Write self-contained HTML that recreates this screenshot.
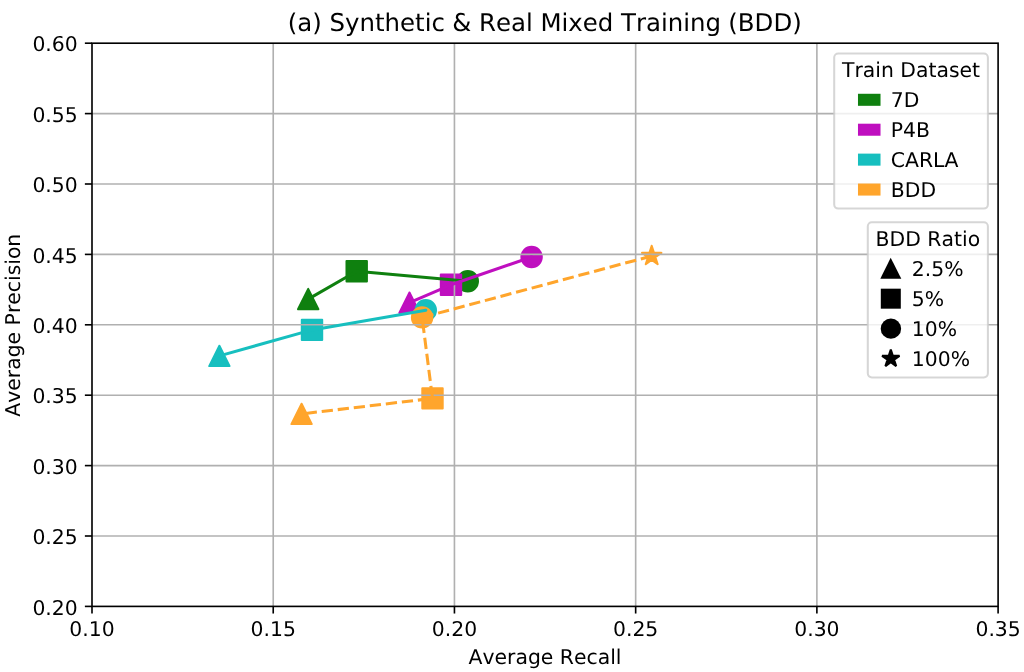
<!DOCTYPE html>
<html><head><meta charset="utf-8"><title>Synthetic &amp; Real Mixed Training (BDD)</title>
<style>html,body{margin:0;padding:0;background:#fff;}svg{display:block;}</style></head>
<body>
<svg width="1024" height="672" viewBox="0 0 1024 672" font-family="DejaVu Sans, Liberation Sans, sans-serif" text-rendering="geometricPrecision" style="font-kerning:none">
<rect width="1024" height="672" fill="#ffffff"/>
<path d="M308.20,288.91 L298.01,309.29 L318.39,309.29 Z" fill="#0f800f" stroke="#0f800f" stroke-width="2.04" stroke-linejoin="round"/>
<rect x="346.51" y="261.01" width="20.38" height="20.38" fill="#0f800f" stroke="#0f800f" stroke-width="2.04" stroke-linejoin="round"/>
<circle cx="467.80" cy="281.30" r="10.19" fill="#0f800f" stroke="#0f800f" stroke-width="2.04" stroke-linejoin="round"/>
<path d="M409.50,292.51 L399.31,312.89 L419.69,312.89 Z" fill="#bf0fbf" stroke="#bf0fbf" stroke-width="2.04" stroke-linejoin="round"/>
<rect x="440.81" y="274.61" width="20.38" height="20.38" fill="#bf0fbf" stroke="#bf0fbf" stroke-width="2.04" stroke-linejoin="round"/>
<circle cx="531.60" cy="257.00" r="10.19" fill="#bf0fbf" stroke="#bf0fbf" stroke-width="2.04" stroke-linejoin="round"/>
<path d="M219.40,345.71 L209.21,366.09 L229.59,366.09 Z" fill="#17bfbf" stroke="#17bfbf" stroke-width="2.04" stroke-linejoin="round"/>
<rect x="301.81" y="319.71" width="20.38" height="20.38" fill="#17bfbf" stroke="#17bfbf" stroke-width="2.04" stroke-linejoin="round"/>
<circle cx="425.80" cy="310.20" r="10.19" fill="#17bfbf" stroke="#17bfbf" stroke-width="2.04" stroke-linejoin="round"/>
<path d="M301.60,403.71 L291.41,424.09 L311.79,424.09 Z" fill="#ffa52c" stroke="#ffa52c" stroke-width="2.04" stroke-linejoin="round"/>
<rect x="422.31" y="388.21" width="20.38" height="20.38" fill="#ffa52c" stroke="#ffa52c" stroke-width="2.04" stroke-linejoin="round"/>
<circle cx="422.10" cy="317.40" r="10.19" fill="#ffa52c" stroke="#ffa52c" stroke-width="2.04" stroke-linejoin="round"/>
<path d="M651.70,245.81 L649.41,252.85 L642.01,252.85 L648.00,257.20 L645.71,264.24 L651.70,259.89 L657.69,264.24 L655.40,257.20 L661.39,252.85 L653.99,252.85 Z" fill="#ffa52c" stroke="#ffa52c" stroke-width="2.04" stroke-linejoin="round"/>
<line x1="273.22" y1="43.2" x2="273.22" y2="606.4" stroke="#b0b0b0" stroke-width="1.63"/>
<line x1="454.44" y1="43.2" x2="454.44" y2="606.4" stroke="#b0b0b0" stroke-width="1.63"/>
<line x1="635.66" y1="43.2" x2="635.66" y2="606.4" stroke="#b0b0b0" stroke-width="1.63"/>
<line x1="816.88" y1="43.2" x2="816.88" y2="606.4" stroke="#b0b0b0" stroke-width="1.63"/>
<line x1="92.0" y1="536.00" x2="998.1" y2="536.00" stroke="#b0b0b0" stroke-width="1.63"/>
<line x1="92.0" y1="465.60" x2="998.1" y2="465.60" stroke="#b0b0b0" stroke-width="1.63"/>
<line x1="92.0" y1="395.20" x2="998.1" y2="395.20" stroke="#b0b0b0" stroke-width="1.63"/>
<line x1="92.0" y1="324.80" x2="998.1" y2="324.80" stroke="#b0b0b0" stroke-width="1.63"/>
<line x1="92.0" y1="254.40" x2="998.1" y2="254.40" stroke="#b0b0b0" stroke-width="1.63"/>
<line x1="92.0" y1="184.00" x2="998.1" y2="184.00" stroke="#b0b0b0" stroke-width="1.63"/>
<line x1="92.0" y1="113.60" x2="998.1" y2="113.60" stroke="#b0b0b0" stroke-width="1.63"/>
<path d="M467.80,281.30 L356.70,271.20 L308.20,299.10" fill="none" stroke="#0f800f" stroke-width="3.05" stroke-linejoin="round" stroke-linecap="round"/>
<path d="M531.60,257.00 L451.00,284.80 L409.50,302.70" fill="none" stroke="#bf0fbf" stroke-width="3.05" stroke-linejoin="round" stroke-linecap="round"/>
<path d="M425.80,310.20 L312.00,329.90 L219.40,355.90" fill="none" stroke="#17bfbf" stroke-width="3.05" stroke-linejoin="round" stroke-linecap="round"/>
<path d="M651.70,256.00 L422.10,317.40 L432.50,398.40 L301.60,413.90" fill="none" stroke="#ffa52c" stroke-width="3.05" stroke-dasharray="11.27 4.87" stroke-linejoin="round" stroke-linecap="butt"/>
<rect x="92.0" y="43.2" width="906.10" height="563.20" fill="none" stroke="#000" stroke-width="1.63" stroke-linejoin="miter"/>
<line x1="92.00" y1="606.4" x2="92.00" y2="613.53" stroke="#000" stroke-width="1.63"/>
<text x="92.00" y="636.4" font-size="20.37" text-anchor="middle" fill="#000">0.10</text>
<line x1="273.22" y1="606.4" x2="273.22" y2="613.53" stroke="#000" stroke-width="1.63"/>
<text x="273.22" y="636.4" font-size="20.37" text-anchor="middle" fill="#000">0.15</text>
<line x1="454.44" y1="606.4" x2="454.44" y2="613.53" stroke="#000" stroke-width="1.63"/>
<text x="454.44" y="636.4" font-size="20.37" text-anchor="middle" fill="#000">0.20</text>
<line x1="635.66" y1="606.4" x2="635.66" y2="613.53" stroke="#000" stroke-width="1.63"/>
<text x="635.66" y="636.4" font-size="20.37" text-anchor="middle" fill="#000">0.25</text>
<line x1="816.88" y1="606.4" x2="816.88" y2="613.53" stroke="#000" stroke-width="1.63"/>
<text x="816.88" y="636.4" font-size="20.37" text-anchor="middle" fill="#000">0.30</text>
<line x1="998.10" y1="606.4" x2="998.10" y2="613.53" stroke="#000" stroke-width="1.63"/>
<text x="998.10" y="636.4" font-size="20.37" text-anchor="middle" fill="#000">0.35</text>
<line x1="84.87" y1="606.40" x2="92.0" y2="606.40" stroke="#000" stroke-width="1.63"/>
<text x="77.74" y="614.50" font-size="20.37" text-anchor="end" fill="#000">0.20</text>
<line x1="84.87" y1="536.00" x2="92.0" y2="536.00" stroke="#000" stroke-width="1.63"/>
<text x="77.74" y="544.10" font-size="20.37" text-anchor="end" fill="#000">0.25</text>
<line x1="84.87" y1="465.60" x2="92.0" y2="465.60" stroke="#000" stroke-width="1.63"/>
<text x="77.74" y="473.70" font-size="20.37" text-anchor="end" fill="#000">0.30</text>
<line x1="84.87" y1="395.20" x2="92.0" y2="395.20" stroke="#000" stroke-width="1.63"/>
<text x="77.74" y="403.30" font-size="20.37" text-anchor="end" fill="#000">0.35</text>
<line x1="84.87" y1="324.80" x2="92.0" y2="324.80" stroke="#000" stroke-width="1.63"/>
<text x="77.74" y="332.90" font-size="20.37" text-anchor="end" fill="#000">0.40</text>
<line x1="84.87" y1="254.40" x2="92.0" y2="254.40" stroke="#000" stroke-width="1.63"/>
<text x="77.74" y="262.50" font-size="20.37" text-anchor="end" fill="#000">0.45</text>
<line x1="84.87" y1="184.00" x2="92.0" y2="184.00" stroke="#000" stroke-width="1.63"/>
<text x="77.74" y="192.10" font-size="20.37" text-anchor="end" fill="#000">0.50</text>
<line x1="84.87" y1="113.60" x2="92.0" y2="113.60" stroke="#000" stroke-width="1.63"/>
<text x="77.74" y="121.70" font-size="20.37" text-anchor="end" fill="#000">0.55</text>
<line x1="84.87" y1="43.20" x2="92.0" y2="43.20" stroke="#000" stroke-width="1.63"/>
<text x="77.74" y="51.30" font-size="20.37" text-anchor="end" fill="#000">0.60</text>
<text x="545.05" y="664.3" font-size="20.37" text-anchor="middle" fill="#000">Average Recall</text>
<text transform="translate(19.9,325.20) rotate(-90)" x="0" y="0" font-size="20.37" text-anchor="middle" fill="#000">Average Precision</text>
<text y="30.9" font-size="24.44" fill="#000"><tspan x="287.8">(a) </tspan><tspan x="329.5">Synthetic </tspan><tspan x="452.35">&amp; </tspan><tspan x="479.0">Real </tspan><tspan x="540.4">Mixed </tspan><tspan x="621.0">Training </tspan><tspan x="728.3">(BDD)</tspan></text>
<rect x="834.2" y="53.5" width="153.70" height="155.10" rx="4.07" ry="4.07" fill="#ffffff" fill-opacity="0.8" stroke="#cccccc" stroke-opacity="0.8" stroke-width="2.04"/>
<text x="911.05" y="77.1" font-size="20.37" text-anchor="middle" fill="#000">Train Dataset</text>
<rect x="859.0" y="94.80" width="20.5" height="10.0" fill="#0f800f" stroke="#0f800f" stroke-width="2.04"/>
<text x="890.8" y="107.10" font-size="20.37" fill="#000">7D</text>
<rect x="859.0" y="124.72" width="20.5" height="10.0" fill="#bf0fbf" stroke="#bf0fbf" stroke-width="2.04"/>
<text x="890.8" y="137.02" font-size="20.37" fill="#000">P4B</text>
<rect x="859.0" y="154.64" width="20.5" height="10.0" fill="#17bfbf" stroke="#17bfbf" stroke-width="2.04"/>
<text x="890.8" y="166.94" font-size="20.37" fill="#000">CARLA</text>
<rect x="859.0" y="184.56" width="20.5" height="10.0" fill="#ffa52c" stroke="#ffa52c" stroke-width="2.04"/>
<text x="890.8" y="196.86" font-size="20.37" fill="#000">BDD</text>
<rect x="867.8" y="222.2" width="120.10" height="155.20" rx="4.07" ry="4.07" fill="#ffffff" fill-opacity="0.8" stroke="#cccccc" stroke-opacity="0.8" stroke-width="2.04"/>
<text x="927.85" y="245.8" font-size="20.37" text-anchor="middle" fill="#000">BDD Ratio</text>
<path d="M890.70,257.70 L880.30,278.85 L901.30,278.85 Z" fill="#000"/>
<text x="911.8" y="276.00" font-size="20.37" fill="#000">2.5%</text>
<rect x="880.80" y="288.68" width="20.0" height="20.0" fill="#000"/>
<text x="911.8" y="305.98" font-size="20.37" fill="#000">5%</text>
<circle cx="890.90" cy="328.66" r="10.2" fill="#000"/>
<text x="911.8" y="335.96" font-size="20.37" fill="#000">10%</text>
<path d="M890.80,349.47 L888.74,355.81 L882.08,355.81 L887.47,359.72 L885.41,366.05 L890.80,362.14 L896.19,366.05 L894.13,359.72 L899.52,355.81 L892.86,355.81 Z" fill="#000" stroke="#000" stroke-width="2.04" stroke-linejoin="bevel"/>
<text x="911.8" y="365.94" font-size="20.37" fill="#000">100%</text>
</svg>
</body></html>
